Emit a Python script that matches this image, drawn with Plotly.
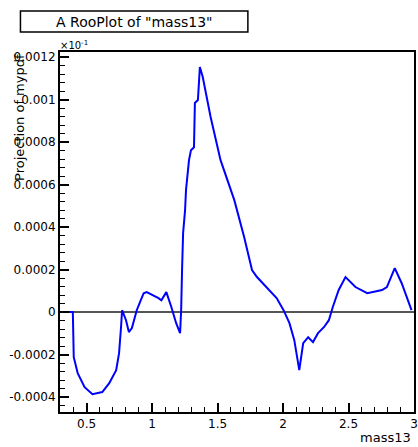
import plotly.graph_objects as go

mass13 = [0.297, 0.395, 0.402, 0.432, 0.485, 0.545, 0.620, 0.673, 0.726, 0.748,
          0.763, 0.771, 0.801, 0.823, 0.846, 0.883, 0.914, 0.936, 0.959, 1.011,
          1.049, 1.071, 1.109, 1.147, 1.184, 1.214, 1.222, 1.229, 1.237, 1.252,
          1.259, 1.282, 1.297, 1.320, 1.327, 1.350, 1.365, 1.387, 1.410, 1.447,
          1.523, 1.628, 1.703, 1.763, 1.801, 1.876, 1.951, 2.004, 2.049, 2.086,
          2.124, 2.154, 2.192, 2.229, 2.267, 2.312, 2.350, 2.380, 2.425, 2.477,
          2.553, 2.643, 2.756, 2.793, 2.853, 2.906, 2.981]
projection = [0.0, 0.0, -2.12e-4, -2.87e-4, -3.53e-4, -3.86e-4, -3.76e-4, -3.34e-4, -2.73e-4, -1.93e-4,
              -0.71e-4, 0.09e-4, -0.38e-4, -0.94e-4, -0.75e-4, 0.09e-4, 0.56e-4, 0.89e-4, 0.94e-4, 0.80e-4,
              0.66e-4, 0.56e-4, 0.94e-4, 0.24e-4, -0.52e-4, -0.99e-4, 0.09e-4, 1.98e-4, 3.72e-4, 4.80e-4,
              5.74e-4, 7.15e-4, 7.62e-4, 7.76e-4, 9.84e-4, 9.98e-4, 11.53e-4, 11.06e-4, 10.31e-4, 9.18e-4,
              7.15e-4, 5.27e-4, 3.53e-4, 1.98e-4, 1.65e-4, 1.18e-4, 0.66e-4, 0.09e-4, -0.52e-4, -1.32e-4,
              -2.73e-4, -1.46e-4, -1.18e-4, -1.41e-4, -0.99e-4, -0.71e-4, -0.38e-4, 0.24e-4, 1.04e-4, 1.65e-4,
              1.18e-4, 0.89e-4, 1.04e-4, 1.18e-4, 2.07e-4, 1.36e-4, 0.09e-4]

x_tickvals = [0.5, 1.0, 1.5, 2.0, 2.5, 3.0]
x_ticktext = ["0.5", "1", "1.5", "2", "2.5", "3"]
y_tickvals = [-0.0004, -0.0002, 0.0, 0.0002, 0.0004, 0.0006, 0.0008, 0.0010, 0.0012]
y_ticktext = ["-0.0004", "-0.0002", "0", "0.0002", "0.0004", "0.0006", "0.0008", "0.001", "0.0012"]

title_text = 'A RooPlot of "mass13"'
x_title = "mass13"
y_title = "Projection of mypdf"

FONT = "DejaVu Sans, Liberation Sans, sans-serif"
W, H = 418, 447
L, R, T, B = 60, 0, 52, 35
pw, ph = W - L - R, H - T - B

def px(xp):
    return (xp - L) / pw

def py(yp):
    return 1 - (yp - T) / ph

fig = go.Figure()
fig.add_trace(go.Scatter(x=mass13, y=projection, mode="lines",
                         line=dict(color="#0000ff", width=2), showlegend=False,
                         hoverinfo="skip"))

fig.update_layout(
    width=W, height=H,
    margin=dict(l=L, r=R, t=T, b=B, pad=0),
    paper_bgcolor="white", plot_bgcolor="white",
    font=dict(family=FONT, size=12, color="black"),
    xaxis=dict(range=[0.297, 3.0], tickvals=x_tickvals, ticktext=x_ticktext,
               ticks="inside", ticklen=9, tickwidth=1.5, tickcolor="black",
               showline=True, linecolor="black", linewidth=2, mirror=True,
               showgrid=False, zeroline=False, ticklabeloverflow="allow",
               minor=dict(dtick=0.1, ticks="inside", ticklen=5, tickcolor="black",
                          tickwidth=1, showgrid=False),
               tickfont=dict(family=FONT, size=12, color="black")),
    yaxis=dict(range=[-0.00047, 0.001224], tickvals=y_tickvals, ticktext=y_ticktext,
               ticks="inside", ticklen=9, tickwidth=1.5, tickcolor="black",
               showline=True, linecolor="black", linewidth=2, mirror=True,
               showgrid=False, zeroline=True, zerolinecolor="#555555", zerolinewidth=2,
               minor=dict(dtick=0.00004, ticks="inside", ticklen=5, tickcolor="black",
                          tickwidth=1, showgrid=False),
               tickfont=dict(family=FONT, size=12, color="black")),
)

# title box
fig.add_shape(type="rect", xref="paper", yref="paper",
              x0=px(20), x1=px(250), y0=py(32), y1=py(11),
              line=dict(color="black", width=1.5), fillcolor="rgba(0,0,0,0)")
fig.add_annotation(text=title_text, xref="paper", yref="paper",
                   x=px(135), y=py(21.5), xanchor="center", yanchor="middle",
                   showarrow=False, font=dict(family=FONT, size=14, color="black"))
# exponent
fig.add_annotation(text="×10<sup>-1</sup>", xref="paper", yref="paper",
                   x=px(58), y=py(45), xanchor="left", yanchor="middle",
                   showarrow=False, font=dict(family=FONT, size=10, color="black"))
# axis titles
fig.add_annotation(text=x_title, xref="paper", yref="paper",
                   x=px(417), y=py(437), xanchor="right", yanchor="middle",
                   showarrow=False, font=dict(family=FONT, size=13, color="black"))
fig.add_annotation(text=y_title, xref="paper", yref="paper",
                   x=px(19), y=py(52), xanchor="center", yanchor="top",
                   textangle=-90, showarrow=False,
                   font=dict(family=FONT, size=13, color="black"))

fig.write_html("out.html", config={"displayModeBar": False},
               post_script="document.body.style.margin='0';")
